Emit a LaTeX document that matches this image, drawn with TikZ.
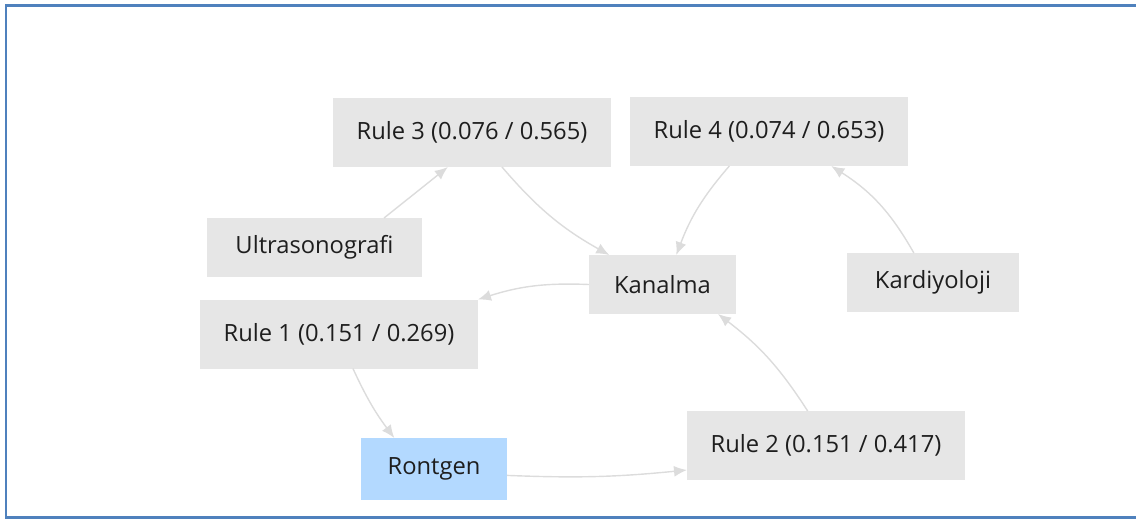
\documentclass[tikz,border=0pt]{standalone}
\usepackage{fontspec}
\setmainfont{Open Sans}
\usepackage{xcolor}
\usetikzlibrary{arrows.meta,positioning}
\definecolor{boxfill}{HTML}{E6E6E6}
\definecolor{hitfill}{HTML}{B3D9FF}
\definecolor{linkcol}{HTML}{DCDCDC}
\definecolor{framecol}{HTML}{4F81BD}
\definecolor{txtcol}{HTML}{1E1E1E}
\begin{document}
\begin{tikzpicture}[
        every node/.style={outer sep=0pt},
        gbox/.style={fill=boxfill, minimum height=11.8mm, inner sep=2pt,
            align=center, text=txtcol, font=\fontsize{13.5}{16}\selectfont},
        rbox/.style={gbox, minimum width=55.6mm, minimum height=13.8mm},
        qbox/.style={gbox, fill=hitfill, minimum width=29.2mm, minimum height=12.4mm},
        link/.style={draw=linkcol, line width=0.8pt,
            -{Latex[length=2.6mm,width=2.2mm]}},
    ]
    \useasboundingbox (0,0) rectangle (22.72,-10.38);

    % frame
    \draw[framecol, line width=1.6pt] (22.72,-0.114) -- (0.12,-0.114)
        -- (0.12,-10.35) -- (22.72,-10.35);

    \node[rbox] at ( 9.44,-2.65) (r3) {Rule 3 (0.076 / 0.565)};
    \node[rbox] at (15.38,-2.63) (r4) {Rule 4 (0.074 / 0.653)};
    \node[gbox, minimum width=43mm] at ( 6.29,-4.95) (ultra) {Ultrasonografi};
    \node[gbox, minimum width=29.4mm] at (13.25,-5.69) (kan) {Kanalma};
    \node[gbox, minimum width=34.4mm] at (18.66,-5.65) (kard) {Kardiyoloji};
    \node[rbox] at ( 6.78,-6.68) (r1) {Rule 1 (0.151 / 0.269)};
    \node[qbox] at ( 8.68,-9.38) (ront) {Rontgen};
    \node[rbox] at (16.52,-8.91) (r2) {Rule 2 (0.151 / 0.417)};

    \draw[link] (ultra.23) -- (r3.235);
    \draw[link] (r3.311) to[bend right=10] (kan.151);
    \draw[link] (r4.221) to[bend right=10] (kan.65);
    \draw[link] (kard.123) to[bend right=14] (r4.331);
    \draw[link] (kan.west) to[bend right=10] (r1.north east);
    \draw[link] (r1.292) to[bend right=6] (ront.142);
    \draw[link] (ront.-5) to[bend right=4] (r2.190);
    \draw[link] (r2.118) to[bend right=10] (kan.332);

    \end{tikzpicture}
\end{document}
